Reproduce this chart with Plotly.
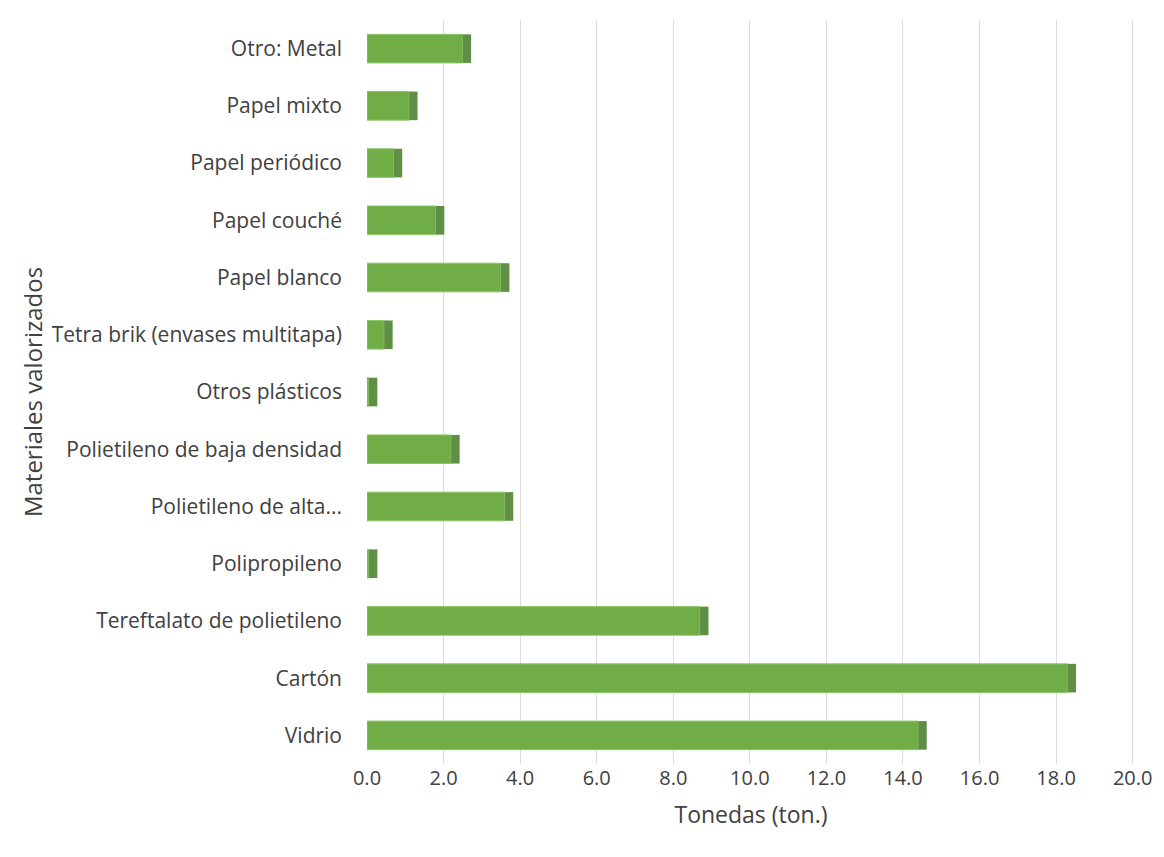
import plotly.graph_objects as go

materiales = [
    "Vidrio",
    "Cartón",
    "Tereftalato de polietileno",
    "Polipropileno",
    "Polietileno de alta...",
    "Polietileno de baja densidad",
    "Otros plásticos",
    "Tetra brik (envases multitapa)",
    "Papel blanco",
    "Papel couché",
    "Papel periódico",
    "Papel mixto",
    "Otro: Metal",
]
toneladas = [14.4, 18.3, 8.7, 0.05, 3.6, 2.2, 0.05, 0.45, 3.5, 1.8, 0.7, 1.1, 2.5]
ticks = [0, 2, 4, 6, 8, 10, 12, 14, 16, 18, 20]

verde = "#70ad47"
verde_oscuro = "#5e8f45"
texto = "#404040"
fuente = "Open Sans"

fig = go.Figure()
# cara frontal de las barras
fig.add_trace(go.Bar(
    y=materiales, x=toneladas, orientation="h",
    marker=dict(color=verde, line=dict(color="#8cc46a", width=1)),
    width=0.5, showlegend=False,
))
# cara lateral (efecto 3D)
fig.add_trace(go.Bar(
    y=materiales, x=[0.22] * len(materiales), base=toneladas, orientation="h",
    marker=dict(color=verde_oscuro, line=dict(width=0)),
    width=0.5, showlegend=False,
))

# la página añade 8 px de margen al body
fig.update_layout(
    width=1148, height=841,
    margin=dict(l=359, r=21, t=12, b=85),
    paper_bgcolor="white", plot_bgcolor="white",
    barmode="overlay",
    font=dict(family=fuente, size=21, color=texto),
    xaxis=dict(
        range=[0, 20.06], tickvals=ticks, tickformat=".1f",
        showgrid=True, gridcolor="#dcdcdc", gridwidth=1,
        zeroline=False, showline=False, ticks="", automargin=False,
        ticklabeloverflow="allow",
        tickfont=dict(size=20, color=texto),
        title=dict(text="Tonedas (ton.)", font=dict(size=23, color=texto), standoff=16),
    ),
    yaxis=dict(
        categoryorder="array", categoryarray=materiales,
        showgrid=False, zeroline=False, showline=False, ticks="", automargin=False,
        ticklabelstandoff=24,
        tickfont=dict(size=21, color=texto),
        title=dict(text="Materiales valorizados", font=dict(size=24, color=texto), standoff=2),
    ),
)

fig.write_html("out.html")
